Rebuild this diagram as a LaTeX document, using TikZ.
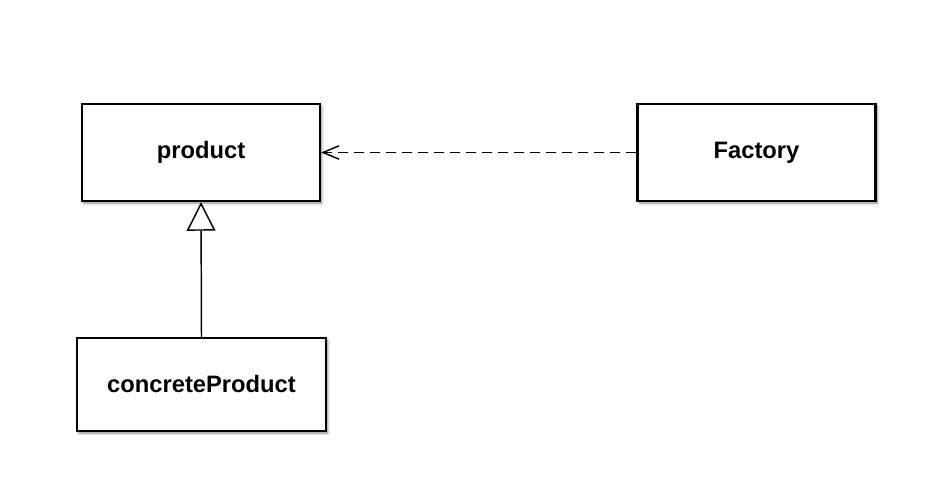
\documentclass[tikz,border=0pt]{standalone}
\usepackage{fontspec}
\setmainfont{Liberation Sans}
\usetikzlibrary{arrows.meta,shadows.blur}

\begin{document}
\begin{tikzpicture}[
        x=0.75pt, y=-0.75pt,
        class/.style={draw, rectangle, line width=1.6pt, fill=white, font=\fontsize{17.8}{21}\selectfont\bfseries,
            minimum width=178.5pt, minimum height=72.75pt,
            blur shadow={shadow xshift=1.4pt, shadow yshift=-1.6pt, shadow blur radius=1.8pt, shadow opacity=45}},
        depends/.style={dash pattern=on 7.5pt off 4.5pt, line width=1.2pt, -{Straight Barb[length=12pt,width=10pt,line width=1.1pt]}},
        inherits/.style={line width=1.1pt, -{Triangle[open, length=21.5pt, width=21.5pt, line width=1.1pt]}}
    ]

    \useasboundingbox (0,0) rectangle (926,498);

    % Classes
    \node[class] (product) at (201,152.5) {product};
    \node[class] (factory) at (756.5,152.5) {Factory};
    \node[class, minimum width=186.75pt, minimum height=69.75pt] (concrete) at (201.5,384.5) {concreteProduct};

    % Relations
    \draw[depends] (factory.west) -- (product.east);
    \draw[inherits] (concrete.north) -- (product.south);

\end{tikzpicture}
\end{document}
